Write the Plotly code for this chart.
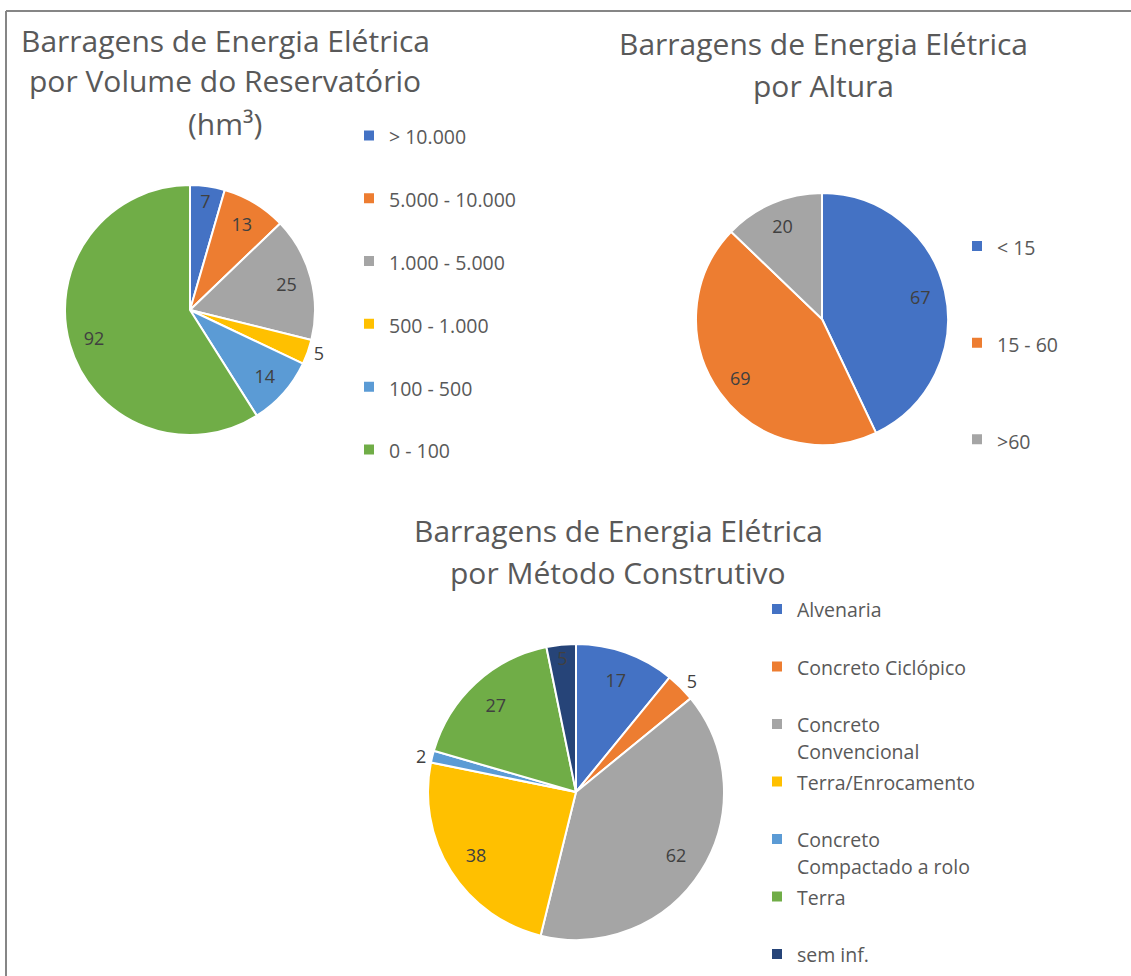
import plotly.graph_objects as go

W, H = 1131, 976

# ---------------- data ----------------
vol_labels = ["> 10.000", "5.000 - 10.000", "1.000 - 5.000", "500 - 1.000", "100 - 500", "0 - 100"]
vol_values = [7, 13, 25, 5, 14, 92]
vol_textpos = ["inside", "inside", "inside", "outside", "inside", "inside"]

alt_labels = ["< 15", "15 - 60", ">60"]
alt_values = [67, 69, 20]
alt_textpos = ["inside", "inside", "inside"]

met_labels = ["Alvenaria", "Concreto Ciclópico", "Concreto<br>Convencional", "Terra/Enrocamento",
              "Concreto<br>Compactado a rolo", "Terra", "sem inf."]
met_values = [17, 5, 62, 38, 2, 27, 5]
met_textpos = ["inside", "outside", "inside", "inside", "outside", "inside", "inside"]

colors = ["#4472C4", "#ED7D31", "#A5A5A5", "#FFC000", "#5B9BD5", "#70AD47", "#264478"]

TXT = "#404040"
GREY = "#595959"
FONT = "Segoe UI, Open Sans, Noto Sans, sans-serif"
LEG_TXT = 19.5


def px_x(x):
    return x / W


def px_y(y):
    return 1 - y / H


def dom(cx, cy, r):
    return dict(x=[px_x(cx - r), px_x(cx + r)], y=[px_y(cy + r), px_y(cy - r)])


def leg_label(lbl, nlines):
    parts = lbl.split("<br>")
    parts = [f'<span style="font-size:{LEG_TXT}px">{p}</span>' for p in parts]
    while len(parts) < nlines:
        parts.append(" ")
    return "<br>".join(parts)


fig = go.Figure()


def add_pie(labels, values, textpos, domain, legend, nlines):
    n = len(values)
    # coloured slices + legend
    fig.add_trace(go.Pie(
        labels=[leg_label(l, nlines) for l in labels], values=values, sort=False,
        direction="clockwise", rotation=0,
        marker=dict(colors=colors[:n], line=dict(color="white", width=2)),
        textinfo="none", domain=domain, legend=legend, hoverinfo="value",
    ))
    # value labels (placed in an outer ring like the original chart)
    fig.add_trace(go.Pie(
        labels=labels, values=values, sort=False, direction="clockwise", rotation=0, hole=0.6,
        marker=dict(colors=["rgba(0,0,0,0)"] * n, line=dict(width=0)),
        textinfo="value", textposition=textpos, insidetextorientation="horizontal",
        textfont=dict(size=18, color=TXT, family=FONT), domain=domain,
        showlegend=False, hoverinfo="skip",
    ))


add_pie(vol_labels, vol_values, vol_textpos, dom(190, 310, 125), "legend", 2)
add_pie(alt_labels, alt_values, alt_textpos, dom(822, 319, 126), "legend2", 3)
add_pie(met_labels, met_values, met_textpos, dom(576, 792, 148), "legend3", 2)


def leg(x, y, size):
    return dict(x=px_x(x), y=px_y(y), xanchor="left", yanchor="top", valign="top",
                font=dict(size=size, color=GREY, family=FONT), bgcolor="rgba(0,0,0,0)")


titles = [
    ("Barragens de Energia Elétrica", 225, 40),
    ("por Volume do Reservatório", 225, 81),
    ("(hm³)", 225, 124),
    ("Barragens de Energia Elétrica", 823, 44),
    ("por Altura", 823, 85),
    ("Barragens de Energia Elétrica", 618, 530),
    ("por Método Construtivo", 618, 572),
]
annotations = [dict(text=t, x=px_x(x), y=px_y(y), xref="paper", yref="paper", xanchor="center",
                    yanchor="middle", showarrow=False, font=dict(size=30, color=GREY, family=FONT))
               for t, x, y in titles]

fig.update_layout(
    width=W, height=H, margin=dict(l=0, r=0, t=0, b=0, autoexpand=False),
    paper_bgcolor="white", plot_bgcolor="white",
    font=dict(family=FONT, color=GREY),
    legend=leg(349, 114, 23),
    legend2=leg(957, 224, 24),
    legend3=leg(757, 589, 20.95),
    annotations=annotations,
    shapes=[
        dict(type="line", xref="paper", yref="paper", x0=px_x(6), x1=1, y0=px_y(11), y1=px_y(11),
             line=dict(color="#868686", width=2)),
        dict(type="line", xref="paper", yref="paper", x0=px_x(6), x1=px_x(6), y0=px_y(11), y1=0,
             line=dict(color="#868686", width=2)),
    ],
)

fig.write_html("out.html", config={"displayModeBar": False},
               post_script="document.body.style.margin='0';")
